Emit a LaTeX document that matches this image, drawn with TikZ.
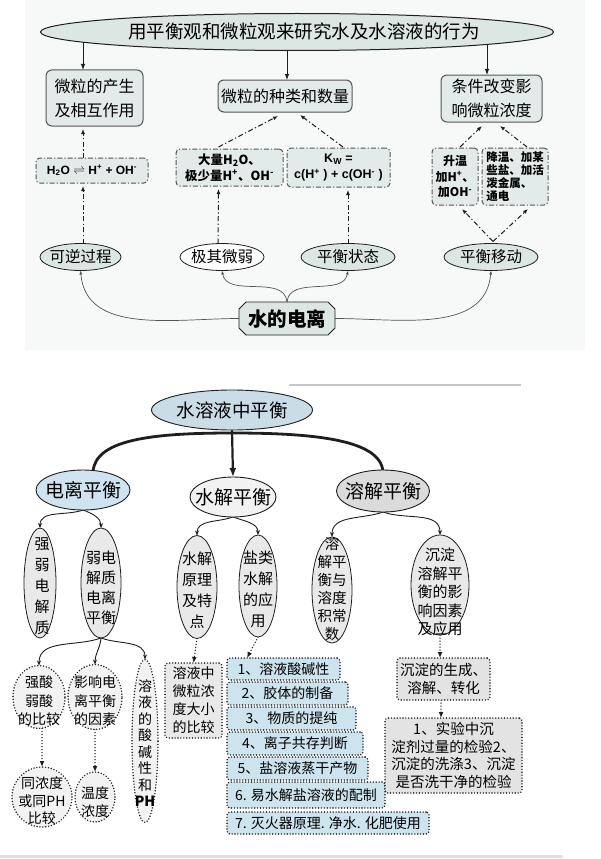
\documentclass[tikz,border=0pt]{standalone}
\usepackage{fontspec}
\setmainfont{Noto Sans CJK SC}
\newfontfamily\lat{Liberation Sans}
\usetikzlibrary{arrows.meta,shapes.geometric,shapes.misc,calc}
\pgfdeclarelayer{back}
\pgfdeclarelayer{bg}
\pgfsetlayers{back,bg,main}
\definecolor{topline}{HTML}{555555}
\definecolor{tealA}{HTML}{DCE7E4}
\definecolor{tealB}{HTML}{E2EBE9}
\definecolor{bgtop}{HTML}{F7F8F8}
\definecolor{blueA}{HTML}{CADCE6}
\definecolor{blueB}{HTML}{CFE4F0}
\definecolor{listblue}{HTML}{CDE3EE}
\definecolor{grayA}{HTML}{E9E9E9}
\definecolor{grayB}{HTML}{E3E3E3}
\definecolor{ink}{HTML}{1E1E1E}
\begin{document}
\begin{tikzpicture}[x=1pt,y=-1pt,
  every node/.style={inner sep=0pt, outer sep=0pt},
  tbox/.style={draw=topline, fill=tealB, rounded corners=6pt, line width=1pt},
  dbox/.style={draw=topline, fill=tealB, rounded corners=4pt, line width=1pt, dash pattern=on 5pt off 2pt on 1.2pt off 2pt},
  tell/.style={ellipse, draw=ink, line width=0.8pt, fill=tealA},
  sarr/.style={draw=ink, line width=0.9pt, -{Latex[length=6pt,width=4.5pt]}},
  dd/.style={draw=ink, line width=1pt, dash pattern=on 5pt off 2.5pt on 1.2pt off 2.5pt, -{Latex[length=5pt,width=4pt]}},
  carr/.style={draw=topline, line width=0.7pt, -{Latex[length=4pt,width=3pt]}},
  thickarc/.style={draw=ink, line width=2.8pt, line cap=round},
  barr/.style={draw=ink, line width=0.9pt, -{Stealth[length=5pt,width=4pt]}},
  darr/.style={draw=ink, line width=1.5pt, dash pattern=on 0pt off 3pt, line cap=round, -{Latex[length=6pt,width=5pt]}},
  ell2/.style={ellipse, draw=ink, line width=0.8pt, fill=grayA},
  dotshape/.style={draw=ink, line width=1.6pt, dash pattern=on 0pt off 2.9pt, line cap=round},
  dotbox/.style={dotshape, rounded corners=3pt},
  dotell/.style={dotshape, ellipse, fill=grayA!60},
  txt/.style={align=center},
]
\useasboundingbox (0,0) rectangle (601,859);
\begin{pgfonlayer}{back}
\fill[bgtop] (25,0) rectangle (585,350);
\end{pgfonlayer}

% ---------------- top part ----------------
\node[tell, line width=1pt, minimum width=513pt, minimum height=37pt] (T) at (297,32) {};
\node[txt, font=\fontsize{18.5}{20}\selectfont] (Tt) at (304,31) {用平衡观和微粒观来研究水及水溶液的行为};

\node[tbox, minimum width=97pt, minimum height=56pt, txt, font=\fontsize{16}{24}\selectfont] (B1) at (94.5,98) {微粒的产生\\及相互作用};
\node[tbox, minimum width=134pt, minimum height=32pt, txt, font=\fontsize{16}{24}\selectfont] (B2) at (285,96) {微粒的种类和数量};
\node[tbox, minimum width=101pt, minimum height=47pt, txt, font=\fontsize{16}{24}\selectfont] (B3) at (491.5,98.5) {条件改变影\\响微粒浓度};

\node[dbox, minimum width=112pt, minimum height=25pt, font=\lat\bfseries\fontsize{12}{14}\selectfont] (D1) at (92,170.5) {H\textsubscript{2}O $\rightleftharpoons$ H\textsuperscript{+} + OH\textsuperscript{-}};
\node[dbox, minimum width=107pt, minimum height=37pt, txt, font=\bfseries\fontsize{12.5}{16}\selectfont] (D2) at (229.5,167.5) {大量H\textsubscript{2}O、\\极少量H\textsuperscript{+}、OH\textsuperscript{-}};
\node[dbox, minimum width=103pt, minimum height=39pt, txt, font=\lat\bfseries\fontsize{12.5}{16}\selectfont] (D3) at (338.5,167.5) {K\textsubscript{W} =\\c(H\textsuperscript{+} ) + c(OH\textsuperscript{-} )};
\node[dbox, minimum width=46pt, minimum height=57pt, txt, font=\bfseries\fontsize{12}{15.5}\selectfont] (D4) at (455,176.5) {升温\\加H\textsuperscript{+}、\\加OH\textsuperscript{-}};
\node[dbox, minimum width=66pt, minimum height=57pt, align=left, font=\bfseries\fontsize{11.5}{13.2}\selectfont] (D5) at (515,176.5) {降温、加某\\些盐、加活\\泼金属、\\通电};

\node[tell, minimum width=81pt, minimum height=27pt] (E1) at (80.5,257) {};
\node[txt, font=\fontsize{15.5}{17}\selectfont] (E1t) at (E1) {可逆过程};
\node[tell, fill=white, minimum width=84pt, minimum height=27pt] (E2) at (222,257) {};
\node[txt, font=\fontsize{15.5}{17}\selectfont] (E2t) at (E2) {极其微弱};
\node[tell, minimum width=94pt, minimum height=27pt] (E3) at (348,257) {};
\node[txt, font=\fontsize{15.5}{17}\selectfont] (E3t) at (E3) {平衡状态};
\node[tell, minimum width=94pt, minimum height=27pt] (E4) at (491,257) {};
\node[txt, font=\fontsize{15.5}{17}\selectfont] (E4t) at (E4) {平衡移动};

\node[rectangle, minimum width=96pt, minimum height=33pt] (W) at (287,318.5) {};
\filldraw[draw=ink, line width=0.8pt, fill=tealA]
  ($(W.north west)+(7,0)$) -- ($(W.north east)+(-7,0)$) -- ($(W.north east)+(0,7)$)
  -- ($(W.south east)+(0,-7)$) -- ($(W.south east)+(-7,0)$) -- ($(W.south west)+(7,0)$)
  -- ($(W.south west)+(0,-7)$) -- ($(W.north west)+(0,7)$) -- cycle;
\node[txt, font=\bfseries\fontsize{19.5}{21}\selectfont] (Wt) at (W) {水的电离};

\begin{pgfonlayer}{bg}
\draw[sarr] ($(B1.north)+(-11.5,-40)$) -- ($(B1.north)+(-11.5,0)$);
\draw[sarr] ($(B2.north)+(2,-40)$) -- ($(B2.north)+(2,0)$);
\draw[sarr] ($(B3.north)+(-4.5,-40)$) -- ($(B3.north)+(-4.5,0)$);
\draw[dd] ($(D1.north)+(-9,0)$) -- ($(B1.south)+(-11.5,3)$);
\draw[dd] ($(D2.north)+(-11,-2)$) -- ($(B2.south)+(-7,4)$);
\draw[dd] ($(D3.north)+(4.5,-1)$) -- ($(B2.south)+(15,3)$);
\draw[dd] ($(D4.north)+(5,-1)$) -- ($(B3.south)+(-9.5,4)$);
\draw[dd] ($(D5.north)+(12,-1)$) -- ($(B3.south)+(8.5,4)$);
\draw[dd] ($(E1.north)+(2.5,0)$) -- ($(D1.south)+(-9,3)$);
\draw[dd] ($(E2.north)+(-4,0)$) -- ($(D2.south)+(-11,3)$);
\draw[dd] (E3.north) -- ($(D3.south)+(9.5,3)$);
\draw[dd] ($(E4.north)+(2,-2)$) -- ($(D4.south)+(7,4)$);
\draw[dd] ($(E4.north)+(2,-2)$) -- ($(D5.south)+(13,4)$);
\draw[carr] (W.west) to[out=180,in=-85] (E1.south);
\draw[carr] (W.north) to[out=95,in=-80] (E2.south);
\draw[carr] (W.north) to[out=85,in=-100] (E3.south);
\draw[carr] (W.east) to[out=0,in=-95] (E4.south);
\end{pgfonlayer}

% separator lines
\draw[black!22, line width=1.2pt] (289,385) -- (521,385);
\draw[black!12, line width=3pt] (0,856) -- (563,856);

% ---------------- bottom part ----------------
\node[ellipse, draw=ink, line width=0.9pt, fill=blueA, minimum width=161pt, minimum height=40pt] (S0) at (232,410) {};
\node[txt, font=\fontsize{18.5}{20}\selectfont] (S0t) at (S0) {水溶液中平衡};
\coordinate (apex) at ($(S0.south)+(0,3)$);

\node[ellipse, draw=ink, line width=0.9pt, fill=blueB, minimum width=94pt, minimum height=40pt] (L1) at (83,490) {};
\node[txt, font=\fontsize{19}{21}\selectfont] (L1t) at (L1) {电离平衡};
\node[ellipse, draw=ink, line width=0.9pt, fill=black!5, minimum width=86pt, minimum height=40pt] (L2) at (233,497) {};
\node[txt, font=\fontsize{19}{21}\selectfont] (L2t) at (L2) {水解平衡};
\node[ellipse, draw=ink, line width=0.9pt, fill=black!14, minimum width=93pt, minimum height=42pt] (L3) at (383,491) {};
\node[txt, font=\fontsize{19}{21}\selectfont] (L3t) at (L3) {溶解平衡};

\node[ell2, minimum width=32pt, minimum height=110pt] (Q1) at (40,583) {};
\node[txt, font=\fontsize{15}{21}\selectfont] (Q1t) at (42,586) {强\\弱\\电\\解\\质};
\node[ell2, minimum width=40pt, minimum height=110pt] (Q2) at (101,583) {};
\node[txt, font=\fontsize{15}{20}\selectfont] (Q2t) at (101,588) {弱电\\解质\\电离\\平衡};
\node[ell2, minimum width=40pt, minimum height=103pt] (R1) at (197,587) {};
\node[txt, font=\fontsize{15}{21}\selectfont] (R1t) at (197,590) {水解\\原理\\及特\\点};
\node[ell2, minimum width=38pt, minimum height=102pt] (R2) at (258,586) {};
\node[txt, font=\fontsize{15}{21}\selectfont] (R2t) at (258,589) {盐类\\水解\\的应\\用};
\node[ell2, minimum width=40pt, minimum height=106pt] (U1) at (332,590) {};
\node[txt, font=\fontsize{14.5}{18}\selectfont] (U1t) at (332,589) {溶\\解平\\衡与\\溶度\\积常\\数};
\node[ell2, minimum width=58pt, minimum height=100pt] (U2) at (440,585) {};
\node[txt, font=\fontsize{15}{18.5}\selectfont] (U2t) at (440,592) {沉淀\\溶解平\\衡的影\\响因素\\及应用};

\node[dotell, minimum width=52pt, minimum height=63pt] (V1) at (39,697) {};
\node[txt, font=\fontsize{14}{18.5}\selectfont] (V1t) at (39,701) {强酸\\弱酸\\的比较};
\node[dotell, minimum width=54pt, minimum height=65pt] (V2) at (95,697) {};
\node[txt, font=\fontsize{14}{18.5}\selectfont] (V2t) at (95,701) {影响电\\离平衡\\的因素};
\node[dotell, minimum width=26pt, minimum height=163pt] (V3) at (145,741) {};
\node[txt, font=\fontsize{14}{16.5}\selectfont] (V3t) at (145,743) {溶\\液\\的\\酸\\碱\\性\\和\\\textbf{PH}};
\node[dotbox, fill=grayA, minimum width=57pt, minimum height=75pt] (X) at (193.5,700.5) {};
\node[txt, font=\fontsize{14}{18}\selectfont] (Xt) at (X) {溶液中\\微粒浓\\度大小\\的比较};
\node[dotell, minimum width=60pt, minimum height=60pt] (Y1) at (42,797) {};
\node[txt, font=\fontsize{14}{17.5}\selectfont] (Y1t) at (42,801) {同浓度\\或同PH\\比较};
\node[dotell, minimum width=40pt, minimum height=50pt] (Y2) at (95,797) {};
\node[txt, font=\fontsize{14}{18}\selectfont] (Y2t) at (95,802) {温度\\浓度};

\node[dotbox, fill=listblue, minimum width=113pt, minimum height=22pt, font=\fontsize{14}{16}\selectfont] (K1) at (283.5,669) {1、溶液酸碱性};
\node[dotbox, fill=listblue, minimum width=121pt, minimum height=23pt, font=\fontsize{14}{16}\selectfont] (K2) at (287.5,693.5) {2、胶体的制备};
\node[dotbox, fill=listblue, minimum width=129pt, minimum height=23pt, font=\fontsize{14}{16}\selectfont] (K3) at (291.5,718.5) {3、物质的提纯};
\node[dotbox, fill=listblue, minimum width=136pt, minimum height=23pt, font=\fontsize{14}{16}\selectfont] (K4) at (295,743.5) {4、离子共存判断};
\node[dotbox, fill=listblue, minimum width=141pt, minimum height=23pt, font=\fontsize{14}{16}\selectfont] (K5) at (297.5,768.5) {5、盐溶液蒸干产物};
\node[dotbox, fill=listblue, minimum width=158pt, minimum height=26pt, font=\fontsize{14}{16}\selectfont] (K6) at (306,795) {6. 易水解盐溶液的配制};
\node[dotbox, fill=listblue, minimum width=202pt, minimum height=22pt, font=\fontsize{14}{16}\selectfont] (K7) at (328,823) {7. 灭火器原理. 净水. 化肥使用};

\node[dotbox, fill=grayB, minimum width=93pt, minimum height=42pt, txt, font=\fontsize{14.5}{18}\selectfont] (Z1) at (443.5,679) {沉淀的生成、\\溶解、转化};
\node[dotbox, fill=grayB, minimum width=137pt, minimum height=75pt, txt, font=\fontsize{14.5}{17.7}\selectfont] (Z2) at (453.5,755.5) {1、实验中沉\\淀剂过量的检验2、\\沉淀的洗涤3、沉淀\\是否洗干净的检验};

\begin{pgfonlayer}{bg}
\draw[thickarc] ($(L1.north)+(10,2)$) .. controls (95,440) and (150,433) .. (apex) .. controls (316,433) and (381,440) .. ($(L3.north)+(0,2)$);
\draw[ink, line width=2.2pt, -{Latex[length=9pt,width=7pt]}] (S0.south) -- (L2.north);
\draw[barr] (L1.south) to[out=-160,in=90] (Q1.north);
\draw[barr] (L1.south) to[out=-20,in=90] (Q2.north);
\draw[barr] (L2.south) to[out=-160,in=90] (R1.north);
\draw[barr] (L2.south) to[out=-20,in=90] (R2.north);
\draw[barr] (L3.south) to[out=-160,in=90] (U1.north);
\draw[barr] (L3.south) to[out=-20,in=90] (U2.north);
\draw[barr] (Q2.south) to[out=-160,in=90] (V1.north);
\draw[barr] (Q2.south) to[out=-95,in=90] (V2.north);
\draw[barr] (Q2.south) to[out=-20,in=90] (V3.north);
\draw[darr] (R1.south) -- (X.north);
\draw[darr] (R2.south) -- ($(K1.north)+(-36.5,0)$);
\draw[darr] (V1.south -| Y1.north) -- (Y1.north);
\draw[darr] (V2.south -| Y2.north) -- (Y2.north);
\draw[darr] (U2.south) -- (U2.south |- Z1.north);
\draw[darr] ($(Z1.south)+(-2.5,0)$) -- ($(Z2.north)+(-12.5,0)$);
\end{pgfonlayer}
\end{tikzpicture}
\end{document}
